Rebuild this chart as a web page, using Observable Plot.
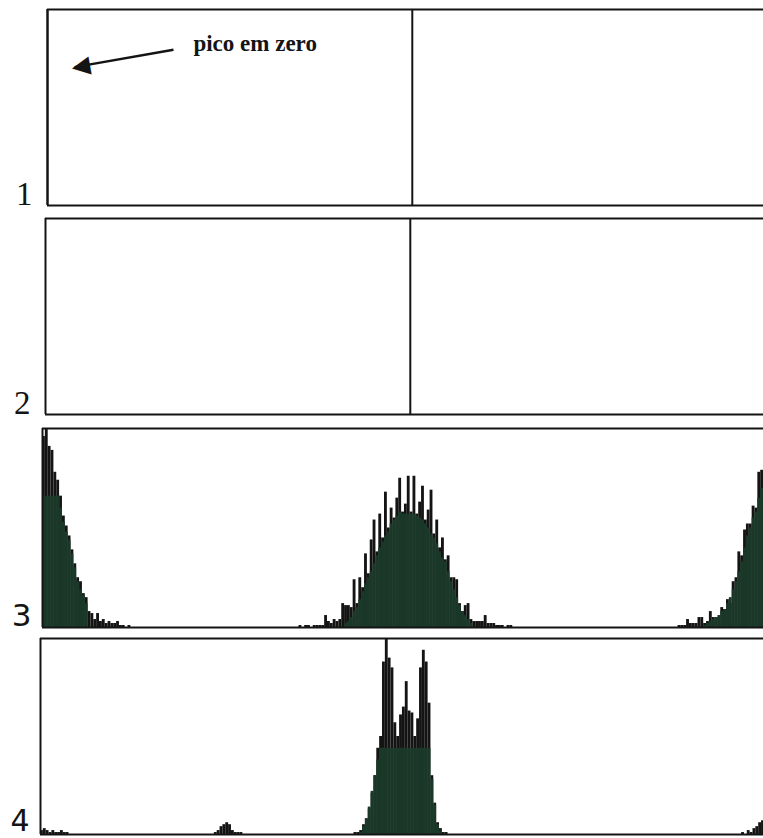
<!DOCTYPE html>
<html><head><meta charset="utf-8">
<script src="https://cdn.jsdelivr.net/npm/d3@7"></script>
<script src="https://cdn.jsdelivr.net/npm/@observablehq/plot@0.6"></script>
<style>
html,body{margin:0;padding:0;background:#fff;}
#chart{width:763px;height:838px;overflow:hidden;}
#chart svg{display:block;}
</style></head><body><div id="chart"></div>
<script>
// ---------- DATA (bin index, relative count 0..100 = panel top) ----------
const panelLabels = ["1", "2", "3", "4"];

// Panels 1 and 2: single full-height spikes
const p1Spikes = [[0, 100], [128, 100]];
const p2Spikes = [[128, 100]];

// Panel 3: black bars and green (lower) bars, by segment start bin
const p3LeftStart = 0;
const p3LeftBlack = [96,100,91,89,78,74,66,56,51,46,39,32,25,23,17,15,8,7,4,7,3,4,2,3,2,2,3,1,1,0,1];
const p3LeftGreen = [66,66,66,66,66,66,60,53,48,44,37,30,23,19,16,12];

const p3CenterStart = 90;
const p3CenterBlack = [1,0,1,1,0,1,1,1,1,6,3,2,4,3,4,12,11,11,10,24,12,25,20,37,27,44,54,38,57,45,
  68,50,60,55,65,75,58,62,76,58,76,57,63,71,54,59,69,47,54,40,45,34,36,25,25,24,12,8,11,12,
  4,3,3,3,3,6,2,2,2,1,1,1,0,1,1];
const p3CenterGreenStart = 106;
const p3CenterGreen = [2,3,5,8,10,14,18,22,25,28,32,36,40,43,46,48,52,54,56,58,57,57,57,57,57,
  56,55,54,52,50,47,45,42,38,35,33,28,23,19,15,11,8,6,4,2];

const p3RightStart = 223;
const p3RightBlack = [1,1,1,4,2,2,2,5,5,2,3,8,5,5,5,10,9,14,12,23,25,38,36,49,52,52,61,60,78,79];
const p3RightGreenStart = 232;
const p3RightGreen = [1,2,3,4,5,6,8,9,12,15,19,23,28,33,40,46,50,55,58,65,70];

// Panel 4
const p4LeftStart = 0;
const p4LeftBlack = [2,3,2,1,2,1,1,2,1,1];
const p4BumpStart = 61;
const p4BumpBlack = [1,2,4,5,6,5,2,1,1,1];
const p4CenterStart = 110;
const p4CenterBlack = [1,1,2,5,8,13,21,30,44,50,88,100,90,85,57,50,61,65,78,63,62,50,59,85,94,88,67,30,16,6,3,1,1];
const p4CenterGreenStart = 112;
const p4CenterGreen = [1,4,8,14,22,30,38,44,44,44,44,44,44,44,44,44,44,44,44,44,44,44,44,44,44,28,15,5,2];
const p4RightStart = 246;
const p4RightBlack = [1,0,2,1,3,4,6,7];

// Annotation (panel 1), in data units
const noteText = [{bin: 51.2, value: 79, label: "pico em zero"}];
const noteArrow = [{bin1: 44.2, value1: 79.5, bin2: 9.5, value2: 70.6}];

// ---------- helpers ----------
const seg = (start, values) => values.map((v, i) => ({bin: start + i, value: v}));
const pairs = (arr) => arr.map(([bin, value]) => ({bin, value}));

const PX_PER_BIN = 2.85;
const INK = "#141414";
const GREEN = "#193828";

function panel(o) {
  const xmax = (763 - o.left) / PX_PER_BIN;
  const marks = [
    Plot.rectY(o.black || [], {x1: "bin", x2: d => d.bin + 1, y1: 0, y2: "value", fill: INK, clip: true}),
    Plot.rectY(o.green || [], {x1: "bin", x2: d => d.bin + 1, y1: 0, y2: "value", fill: GREEN, clip: true}),
    Plot.ruleX(o.spikes || [], {x: "bin", y1: 0, y2: "value", stroke: INK, strokeWidth: 2}),
    Plot.ruleY([0, 100], {stroke: INK, strokeWidth: 2}),
    Plot.ruleX([0], {stroke: INK, strokeWidth: 2}),
    Plot.text([o.label], {frameAnchor: "bottom-left", text: d => d, textAnchor: "end", lineAnchor: "bottom",
      dx: o.dx, dy: o.dy, fontSize: o.size, fontFamily: o.font, fill: INK})
  ];
  if (o.extra) marks.push(...o.extra);
  return Plot.plot({
    width: 763, height: o.height,
    marginLeft: o.left, marginRight: 0, marginTop: o.top, marginBottom: o.bottom,
    x: {domain: [0, xmax], axis: null},
    y: {domain: [0, 100], axis: null},
    style: {background: "#fff", overflow: "visible"},
    marks
  });
}

const annotation = [
  Plot.link(noteArrow, {x1: "bin1", y1: "value1", x2: "bin2", y2: "value2", stroke: INK, strokeWidth: 2.5}),
  Plot.text(noteArrow, {x: "bin2", y: "value2", text: () => "\u25C0", rotate: -10, textAnchor: "start",
    lineAnchor: "middle", fontSize: 24, dx: -3, fill: INK, fontFamily: "DejaVu Sans"}),
  Plot.text(noteText, {x: "bin", y: "value", text: "label", textAnchor: "start", lineAnchor: "bottom",
    fontSize: 23, fontWeight: "bold", fontFamily: "Liberation Serif", fill: INK})
];

const chart = document.getElementById("chart");
chart.append(panel({left: 47, top: 9, bottom: 6, height: 211, spikes: pairs(p1Spikes),
  label: panelLabels[0], font: "Liberation Serif", size: 33, dx: -15, dy: -1, extra: annotation}));
chart.append(panel({left: 45, top: 7, bottom: 6, height: 209, spikes: pairs(p2Spikes),
  label: panelLabels[1], font: "Liberation Serif", size: 33, dx: -15, dy: -1}));
chart.append(panel({left: 42, top: 8, bottom: 5, height: 212,
  black: [...seg(p3LeftStart, p3LeftBlack), ...seg(p3CenterStart, p3CenterBlack), ...seg(p3RightStart, p3RightBlack)],
  green: [...seg(p3LeftStart, p3LeftGreen), ...seg(p3CenterGreenStart, p3CenterGreen), ...seg(p3RightGreenStart, p3RightGreen)],
  label: panelLabels[2], font: "DejaVu Sans", size: 31, dx: -11, dy: -2}));
chart.append(panel({left: 40, top: 6, bottom: 4, height: 206,
  black: [...seg(p4LeftStart, p4LeftBlack), ...seg(p4BumpStart, p4BumpBlack), ...seg(p4CenterStart, p4CenterBlack), ...seg(p4RightStart, p4RightBlack)],
  green: seg(p4CenterGreenStart, p4CenterGreen),
  label: panelLabels[3], font: "DejaVu Sans", size: 30, dx: -11, dy: -4}));
</script>
</body></html>
